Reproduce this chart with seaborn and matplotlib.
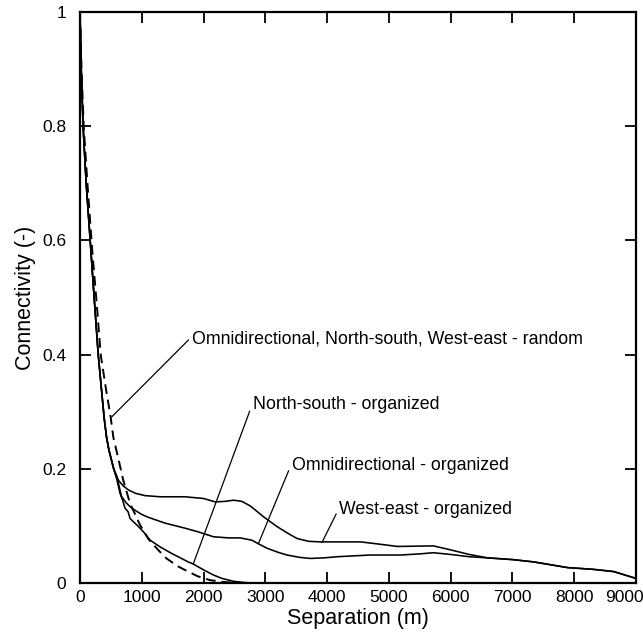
import numpy as np
import pandas as pd
import matplotlib
matplotlib.use("Agg")
import matplotlib.pyplot as plt
import matplotlib.transforms as mtransforms
import seaborn as sns

# ---- data ----
bundle_x = [0, 20, 50, 100, 165, 216, 295, 390, 430, 470, 510, 545]
bundle_y = [1.0, 0.9, 0.8, 0.7, 0.6, 0.52, 0.4, 0.29, 0.255, 0.232, 0.215, 0.2]

we_x = [621, 700, 783, 900, 1053, 1300, 1700, 2000, 2190, 2350, 2485, 2620, 2755,
        2870, 2970, 3187, 3350, 3512, 3700, 3890, 4540, 4850, 5140, 5720, 6000,
        6300, 6600, 7000, 7340, 7890, 8300, 8640, 9000]
we_y = [0.18, 0.17, 0.163, 0.157, 0.153, 0.151, 0.151, 0.148, 0.142, 0.143, 0.145,
        0.143, 0.135, 0.125, 0.116, 0.099, 0.088, 0.078, 0.073, 0.072, 0.072, 0.068,
        0.064, 0.065, 0.058, 0.05, 0.044, 0.041, 0.037, 0.027, 0.024, 0.02, 0.008]

omni_x = [600, 670, 750, 838, 1000, 1107, 1372, 1700, 1900, 2160, 2400, 2595, 2780,
          2900, 3025, 3200, 3350, 3550, 3728, 3950, 4160, 4700, 5190, 5500, 5720,
          6000, 6300, 6600, 7000, 7340, 7890, 8300, 8640, 9000]
omni_y = [0.185, 0.152, 0.14, 0.131, 0.12, 0.115, 0.105, 0.096, 0.09, 0.081, 0.079,
          0.079, 0.075, 0.068, 0.061, 0.054, 0.049, 0.045, 0.043, 0.044, 0.046, 0.049,
          0.049, 0.051, 0.053, 0.05, 0.046, 0.044, 0.041, 0.037, 0.027, 0.024, 0.02, 0.008]

ns_x = [600, 648, 690, 729, 778, 810, 945, 1040, 1135, 1300, 1480, 1750, 1837, 2000,
        2160, 2300, 2485, 2650, 2800]
ns_y = [0.18, 0.157, 0.145, 0.131, 0.125, 0.113, 0.099, 0.088, 0.075, 0.063, 0.052,
        0.037, 0.033, 0.023, 0.014, 0.008, 0.003, 0.001, 0.0]

rand_x = [0, 25, 60, 120, 200, 270, 335, 420, 497, 540, 616, 700, 808, 970, 1107,
          1264, 1400, 1588, 1750, 1900, 2107, 2300, 2450, 2600]
rand_y = [1.0, 0.9, 0.8, 0.7, 0.58, 0.49, 0.4, 0.34, 0.29, 0.255, 0.22, 0.18, 0.14,
          0.102, 0.077, 0.058, 0.043, 0.029, 0.02, 0.012, 0.005, 0.002, 0.0008, 0.0]

x_ticks = [0, 1000, 2000, 3000, 4000, 5000, 6000, 7000, 8000, 9000]
y_ticks = [0, 0.2, 0.4, 0.6, 0.8, 1.0]
y_tick_labels = ["0", "0.2", "0.4", "0.6", "0.8", "1"]

labels = ["Omnidirectional, North-south, West-east - random",
          "North-south - organized",
          "Omnidirectional - organized",
          "West-east - organized"]
# (text anchor x, y), (pointed x, y)
label_text_xy = [(1810, 0.427), (2800, 0.312), (3430, 0.206), (4200, 0.128)]
label_point_xy = [(514, 0.291), (1837, 0.0345), (2890, 0.0695), (3917, 0.071)]

# ---- build frame ----
rows = []
for name, xs, ys in [("we", bundle_x + we_x, bundle_y + we_y),
                     ("omni", bundle_x + omni_x, bundle_y + omni_y),
                     ("ns", bundle_x + ns_x, bundle_y + ns_y),
                     ("rand", rand_x, rand_y)]:
    for a, b in zip(xs, ys):
        rows.append({"series": name, "x": a, "y": b})
df = pd.DataFrame(rows)

sns.set_theme(style="ticks")
plt.rcParams["font.family"] = ["Liberation Sans", "DejaVu Sans"]

fig = plt.figure(figsize=(6.43, 6.35), dpi=100)
ax = fig.add_axes([80 / 643, 1 - 583 / 635, 556 / 643, 571 / 635])

for name in ["we", "omni", "ns"]:
    sub = df[df.series == name]
    sns.lineplot(data=sub, x="x", y="y", ax=ax, color="black", lw=1.15,
                 estimator=None, sort=False)
sub = df[df.series == "rand"]
sns.lineplot(data=sub, x="x", y="y", ax=ax, color="black", lw=1.4,
             estimator=None, sort=False, linestyle=(0, (5, 3)))

for txt, (tx, ty), (px, py) in zip(labels, label_text_xy, label_point_xy):
    ax.annotate(txt, xy=(px, py), xytext=(tx, ty), ha="left", va="center",
                fontsize=12.8, color="black",
                arrowprops=dict(arrowstyle="-", color="black", lw=0.9,
                                shrinkA=0, shrinkB=0, relpos=(0, 0.65)))

ax.set_xlim(0, 9000)
ax.set_ylim(0, 1)
ax.set_xticks(x_ticks)
ax.set_xticklabels([str(v) for v in x_ticks])
ax.set_yticks(y_ticks)
ax.set_yticklabels(y_tick_labels)
ax.tick_params(direction="in", length=8, width=1.3, top=True, right=True,
               labelsize=12.5, colors="black", pad=5)
ax.tick_params(axis="y", pad=10)
for s in ax.spines.values():
    s.set_linewidth(1.6)
    s.set_color("black")
ax.set_xlabel("Separation (m)", fontsize=15.5, labelpad=2, color="black")
ax.set_ylabel("Connectivity (-)", fontsize=15.5, labelpad=4, color="black")

# shift the last x tick label left so it stays inside the figure
last = ax.get_xticklabels()[-1]
last.set_transform(last.get_transform() +
                   mtransforms.ScaledTranslation(-12 / 100, 0, fig.dpi_scale_trans))

fig.savefig("out.png", dpi=100)
